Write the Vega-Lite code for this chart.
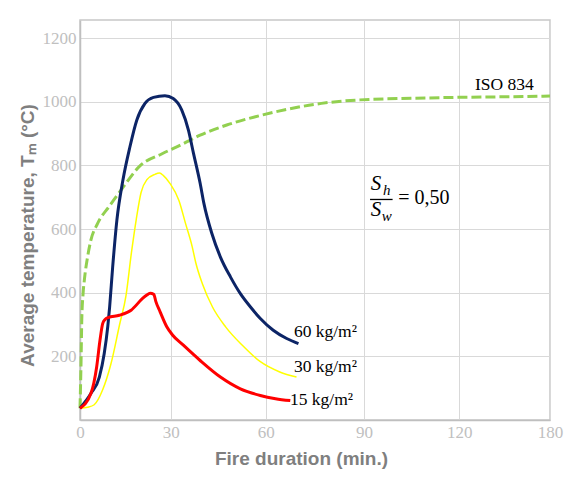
{
  "$schema": "https://vega.github.io/schema/vega-lite/v6.json",
  "width": 470,
  "height": 400,
  "autosize": {"type": "none"},
  "padding": {"left": 80, "top": 20, "right": 19, "bottom": 60},
  "background": "white",
  "datasets": {
    "curves": [
      {"series": "ISO", "t": 0, "T": 37},
      {"series": "ISO", "t": 0.3, "T": 160},
      {"series": "ISO", "t": 0.6, "T": 320},
      {"series": "ISO", "t": 1.0, "T": 395},
      {"series": "ISO", "t": 1.5, "T": 445},
      {"series": "ISO", "t": 2.5, "T": 512},
      {"series": "ISO", "t": 3.6, "T": 565},
      {"series": "ISO", "t": 5.8, "T": 617},
      {"series": "ISO", "t": 9.7, "T": 672},
      {"series": "ISO", "t": 14, "T": 728},
      {"series": "ISO", "t": 20, "T": 800},
      {"series": "ISO", "t": 27, "T": 836},
      {"series": "ISO", "t": 33.5, "T": 866},
      {"series": "ISO", "t": 39.3, "T": 895},
      {"series": "ISO", "t": 47.7, "T": 927},
      {"series": "ISO", "t": 58.3, "T": 957},
      {"series": "ISO", "t": 66.9, "T": 977},
      {"series": "ISO", "t": 77, "T": 995},
      {"series": "ISO", "t": 88.8, "T": 1006},
      {"series": "ISO", "t": 105.5, "T": 1011},
      {"series": "ISO", "t": 120, "T": 1014},
      {"series": "ISO", "t": 155, "T": 1016},
      {"series": "ISO", "t": 180, "T": 1018},

      {"series": "30", "t": 0, "T": 37},
      {"series": "30", "t": 2.5, "T": 40},
      {"series": "30", "t": 4.7, "T": 48},
      {"series": "30", "t": 7.5, "T": 95},
      {"series": "30", "t": 10.2, "T": 175},
      {"series": "30", "t": 13.1, "T": 300},
      {"series": "30", "t": 15.2, "T": 390},
      {"series": "30", "t": 17, "T": 525},
      {"series": "30", "t": 18.6, "T": 630},
      {"series": "30", "t": 20.2, "T": 715},
      {"series": "30", "t": 22.1, "T": 755},
      {"series": "30", "t": 24.8, "T": 772},
      {"series": "30", "t": 26.3, "T": 776},
      {"series": "30", "t": 27.6, "T": 768},
      {"series": "30", "t": 29.8, "T": 743},
      {"series": "30", "t": 32.6, "T": 690},
      {"series": "30", "t": 34.7, "T": 617},
      {"series": "30", "t": 36.8, "T": 544},
      {"series": "30", "t": 37.9, "T": 495},
      {"series": "30", "t": 40, "T": 428},
      {"series": "30", "t": 43.2, "T": 355},
      {"series": "30", "t": 47.4, "T": 292},
      {"series": "30", "t": 52.7, "T": 234},
      {"series": "30", "t": 58.2, "T": 184},
      {"series": "30", "t": 64.3, "T": 151},
      {"series": "30", "t": 69.4, "T": 135},

      {"series": "60", "t": 0, "T": 37},
      {"series": "60", "t": 3.6, "T": 83},
      {"series": "60", "t": 6.4, "T": 135},
      {"series": "60", "t": 8.0, "T": 208},
      {"series": "60", "t": 9.2, "T": 295},
      {"series": "60", "t": 9.8, "T": 355},
      {"series": "60", "t": 10.8, "T": 480},
      {"series": "60", "t": 12.2, "T": 628},
      {"series": "60", "t": 14.2, "T": 754},
      {"series": "60", "t": 16.5, "T": 858},
      {"series": "60", "t": 18.8, "T": 943},
      {"series": "60", "t": 21.5, "T": 995},
      {"series": "60", "t": 24.3, "T": 1014},
      {"series": "60", "t": 28.1, "T": 1019},
      {"series": "60", "t": 30.8, "T": 1010},
      {"series": "60", "t": 33.5, "T": 974},
      {"series": "60", "t": 35.6, "T": 911},
      {"series": "60", "t": 37.2, "T": 838},
      {"series": "60", "t": 39.3, "T": 744},
      {"series": "60", "t": 40.5, "T": 680},
      {"series": "60", "t": 43, "T": 586},
      {"series": "60", "t": 45.7, "T": 512},
      {"series": "60", "t": 48.9, "T": 449},
      {"series": "60", "t": 52, "T": 397},
      {"series": "60", "t": 55.2, "T": 355},
      {"series": "60", "t": 58.3, "T": 319},
      {"series": "60", "t": 62.3, "T": 282},
      {"series": "60", "t": 66.4, "T": 256},
      {"series": "60", "t": 70, "T": 240},

      {"series": "15", "t": 0, "T": 37},
      {"series": "15", "t": 3.6, "T": 83},
      {"series": "15", "t": 5.5, "T": 166},
      {"series": "15", "t": 6.6, "T": 250},
      {"series": "15", "t": 7.5, "T": 303},
      {"series": "15", "t": 8.3, "T": 316},
      {"series": "15", "t": 9.3, "T": 322},
      {"series": "15", "t": 13, "T": 329},
      {"series": "15", "t": 16.9, "T": 345},
      {"series": "15", "t": 20.7, "T": 382},
      {"series": "15", "t": 22, "T": 392},
      {"series": "15", "t": 23.2, "T": 398},
      {"series": "15", "t": 24.4, "T": 395},
      {"series": "15", "t": 25.1, "T": 372},
      {"series": "15", "t": 26.5, "T": 340},
      {"series": "15", "t": 28.7, "T": 293},
      {"series": "15", "t": 30.5, "T": 268},
      {"series": "15", "t": 34, "T": 235},
      {"series": "15", "t": 39.3, "T": 187},
      {"series": "15", "t": 45.7, "T": 135},
      {"series": "15", "t": 52, "T": 98},
      {"series": "15", "t": 58.3, "T": 77},
      {"series": "15", "t": 63, "T": 67},
      {"series": "15", "t": 67.5, "T": 61}
    ],
    "labels": [
      {"text": "ISO 834", "t": 130.4, "T": 1052},
      {"text": "60 kg/m²", "t": 68.6, "T": 275},
      {"text": "30 kg/m²", "t": 68.6, "T": 166},
      {"text": "15 kg/m²", "t": 67.4, "T": 62}
    ],
    "mathMain": [
      {"text": "S", "t": 93.8, "T": 741},
      {"text": "S", "t": 93.8, "T": 659}
    ],
    "mathSub": [
      {"text": "h", "t": 97.2, "T": 722},
      {"text": "w", "t": 97.2, "T": 640}
    ],
    "mathEq": [
      {"text": "= 0,50", "t": 100.8, "T": 698}
    ],
    "bar": [
      {"t": 91.9, "t2": 99.0, "T": 693}
    ]
  },
  "layer": [
    {
      "data": {"name": "curves"},
      "transform": [{"filter": "datum.series === 'ISO'"}],
      "mark": {"type": "line", "color": "#92d050", "strokeWidth": 3, "strokeDash": [10, 4], "interpolate": "monotone"},
      "encoding": {
        "x": {"field": "t", "type": "quantitative", "scale": {"type": "linear", "domain": [0, 30, 60, 90, 120, 180], "range": [0, 90.7, 185.7, 284, 379.3, 470]},
          "axis": {"values": [0, 30, 60, 90, 120, 180], "format": "d", "title": "Fire duration (min.)", "labelPadding": 4, "labelFlush": false, "titleX": 221, "titleY": 38, "titleBaseline": "middle", "titleAnchor": "middle", "titleAlign": "center"}},
        "y": {"field": "T", "type": "quantitative", "scale": {"domain": [0, 1257], "nice": false},
          "axis": {"values": [200, 400, 600, 800, 1000, 1200], "format": "d", "title": "Average temperature, Tₘ (°C)", "labelPadding": 4, "titleX": -53, "titleY": 215, "titleBaseline": "middle", "titleAlign": "center", "titleAngle": -90}}
      }
    },
    {
      "data": {"name": "curves"},
      "transform": [{"filter": "datum.series === '30'"}],
      "mark": {"type": "line", "color": "#ffff00", "strokeWidth": 1.5, "interpolate": "monotone"},
      "encoding": {
        "x": {"field": "t", "type": "quantitative"},
        "y": {"field": "T", "type": "quantitative"}
      }
    },
    {
      "data": {"name": "curves"},
      "transform": [{"filter": "datum.series === '60'"}],
      "mark": {"type": "line", "color": "#0c2466", "strokeWidth": 3, "interpolate": "monotone"},
      "encoding": {
        "x": {"field": "t", "type": "quantitative"},
        "y": {"field": "T", "type": "quantitative"}
      }
    },
    {
      "data": {"name": "curves"},
      "transform": [{"filter": "datum.series === '15'"}],
      "mark": {"type": "line", "color": "#ff0000", "strokeWidth": 3, "interpolate": "monotone"},
      "encoding": {
        "x": {"field": "t", "type": "quantitative"},
        "y": {"field": "T", "type": "quantitative"}
      }
    },
    {
      "data": {"name": "labels"},
      "mark": {"type": "text", "font": "Liberation Serif", "fontSize": 17.5, "color": "#000000", "baseline": "middle", "align": "left"},
      "encoding": {
        "x": {"field": "t", "type": "quantitative"},
        "y": {"field": "T", "type": "quantitative"},
        "text": {"field": "text"}
      }
    },
    {
      "data": {"name": "mathMain"},
      "mark": {"type": "text", "font": "Liberation Serif", "fontSize": 21, "fontStyle": "italic", "color": "#000000", "baseline": "middle", "align": "center"},
      "encoding": {
        "x": {"field": "t", "type": "quantitative"},
        "y": {"field": "T", "type": "quantitative"},
        "text": {"field": "text"}
      }
    },
    {
      "data": {"name": "mathSub"},
      "mark": {"type": "text", "font": "Liberation Serif", "fontSize": 15, "fontStyle": "italic", "color": "#000000", "baseline": "middle", "align": "center"},
      "encoding": {
        "x": {"field": "t", "type": "quantitative"},
        "y": {"field": "T", "type": "quantitative"},
        "text": {"field": "text"}
      }
    },
    {
      "data": {"name": "mathEq"},
      "mark": {"type": "text", "font": "Liberation Serif", "fontSize": 20, "color": "#000000", "baseline": "middle", "align": "left"},
      "encoding": {
        "x": {"field": "t", "type": "quantitative"},
        "y": {"field": "T", "type": "quantitative"},
        "text": {"field": "text"}
      }
    },
    {
      "data": {"name": "bar"},
      "mark": {"type": "rule", "color": "#000000", "strokeWidth": 1.3},
      "encoding": {
        "x": {"field": "t", "type": "quantitative"},
        "x2": {"field": "t2"},
        "y": {"field": "T", "type": "quantitative"}
      }
    }
  ],
  "config": {
    "view": {"stroke": "#c8c8c8", "strokeWidth": 1.5},
    "axis": {
      "domainColor": "#bfbfbf",
      "domainWidth": 1.5,
      "gridColor": "#d9d9d9",
      "gridWidth": 1,
      "ticks": false,
      "labelFont": "Liberation Serif",
      "labelFontSize": 17,
      "labelColor": "#c0c0c0",
      "titleFont": "Liberation Sans",
      "titleFontWeight": "bold",
      "titleFontSize": 19,
      "titleColor": "#7f7f7f"
    }
  }
}
